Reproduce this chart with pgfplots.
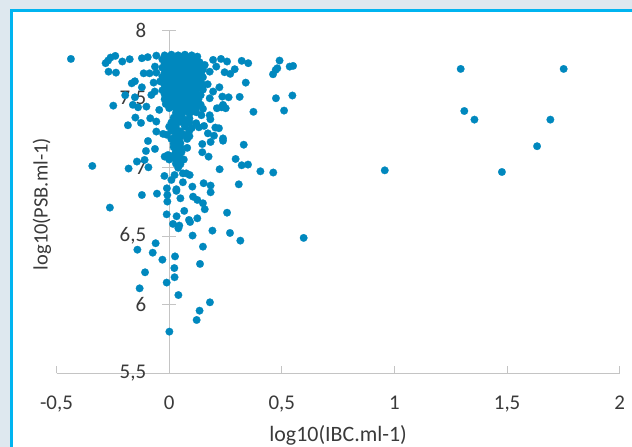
\documentclass[border=0pt]{standalone}
\usepackage{pgfplots}
\pgfplotsset{compat=1.18}
\usepackage{pgfplotstable}
\usepackage{fontspec}
\setmainfont{Carlito}
\definecolor{pagebg}{HTML}{DEE8EF}
\definecolor{frameblue}{HTML}{00B4F0}
\definecolor{dot}{HTML}{0088BE}
\definecolor{axisgrey}{HTML}{C4C4C4}
\definecolor{txt}{HTML}{3A3A3A}
\pgfplotstableread{
x y
-0.436 7.794
-0.341 7.013
-0.180 6.994
-0.143 7.045
-0.109 7.057
-0.092 7.003
-0.282 7.763
-0.271 7.782
-0.260 7.804
-0.239 7.816
-0.269 7.701
-0.236 7.694
-0.208 7.775
-0.175 7.792
-0.121 7.799
-0.095 7.807
-0.057 7.818
-0.113 7.689
-0.087 7.689
-0.063 7.738
-0.057 7.694
-0.166 7.616
-0.152 7.631
-0.121 7.587
-0.069 7.621
-0.079 7.531
-0.064 7.556
-0.195 7.529
-0.152 7.514
-0.248 7.453
-0.161 7.459
-0.138 7.441
-0.101 7.446
-0.044 7.422
-0.150 7.366
-0.084 7.361
-0.057 7.337
-0.125 7.327
-0.183 7.310
-0.057 7.264
-0.027 7.247
-0.094 7.195
-0.063 7.137
-0.103 7.122
-0.020 7.081
-0.005 7.093
-0.021 6.940
-0.121 6.801
-0.054 6.811
-0.010 6.850
0.125 7.811
0.158 7.750
0.180 7.701
0.195 7.787
0.209 7.738
0.230 7.794
0.257 7.775
0.246 7.697
0.271 7.685
0.291 7.719
0.322 7.780
0.351 7.763
0.490 7.782
0.480 7.726
0.473 7.714
0.461 7.682
0.535 7.738
0.550 7.743
0.340 7.621
0.171 7.609
0.223 7.587
0.195 7.556
0.180 7.507
0.236 7.519
0.264 7.514
0.313 7.517
0.474 7.507
0.547 7.527
0.374 7.408
0.510 7.417
0.212 7.434
0.232 7.441
0.239 7.459
0.251 7.434
0.180 7.383
0.183 7.354
0.143 7.383
0.132 7.295
0.155 7.305
0.205 7.293
0.221 7.288
0.172 7.251
0.199 7.234
0.239 7.214
0.239 7.197
0.184 7.188
0.147 7.173
0.331 7.168
0.147 7.113
0.175 7.081
0.295 7.064
0.322 7.018
0.350 7.023
0.224 6.989
0.405 6.974
0.462 6.965
0.309 6.879
0.153 6.887
0.184 6.870
0.184 6.821
0.103 6.862
0.106 6.789
0.061 6.959
0.024 6.947
0.010 6.911
0.061 6.894
0.032 6.843
0.050 6.777
0.091 6.947
0.076 6.959
-0.263 6.709
-0.008 6.753
-0.008 6.801
0.032 6.831
0.125 6.765
0.150 6.741
0.158 6.697
0.067 6.685
-0.011 6.660
0.033 6.646
0.088 6.619
0.093 6.604
0.125 6.631
0.257 6.672
0.017 6.590
0.045 6.578
0.041 6.558
0.104 6.505
0.192 6.541
0.270 6.524
0.316 6.468
0.597 6.488
-0.060 6.449
-0.141 6.402
-0.073 6.380
-0.030 6.329
0.026 6.353
0.150 6.424
0.137 6.298
0.023 6.268
-0.107 6.237
0.024 6.201
-0.011 6.162
-0.131 6.120
0.041 6.071
0.181 6.018
0.135 5.957
0.122 5.889
0.001 5.804
1.294 7.721
1.751 7.721
1.310 7.414
1.355 7.351
1.692 7.351
1.633 7.157
1.477 6.969
0.957 6.981
-0.02 7.82
0.01 7.825
0.04 7.82
0.07 7.825
0.10 7.82
-0.03 7.79
0.00 7.79
0.03 7.79
0.06 7.795
0.09 7.79
0.12 7.78
-0.02 7.76
0.01 7.76
0.04 7.755
0.07 7.76
0.10 7.755
0.13 7.75
-0.03 7.73
0.00 7.725
0.03 7.73
0.06 7.725
0.09 7.73
0.12 7.72
0.15 7.72
-0.02 7.695
0.01 7.70
0.04 7.695
0.07 7.70
0.10 7.69
0.13 7.695
-0.03 7.665
0.00 7.665
0.03 7.67
0.06 7.665
0.09 7.66
0.12 7.665
0.15 7.66
-0.04 7.63
-0.01 7.635
0.02 7.63
0.05 7.635
0.08 7.63
0.11 7.635
0.14 7.625
-0.02 7.60
0.01 7.60
0.04 7.595
0.07 7.60
0.10 7.595
0.13 7.60
-0.03 7.565
0.00 7.57
0.03 7.565
0.06 7.57
0.09 7.56
0.12 7.565
0.15 7.57
-0.02 7.535
0.01 7.53
0.04 7.535
0.07 7.53
0.105 7.535
0.14 7.53
-0.02 7.50
0.01 7.50
0.04 7.495
0.07 7.50
0.10 7.49
0.13 7.50
-0.015 7.465
0.015 7.47
0.045 7.465
0.075 7.46
0.11 7.47
0.14 7.46
0.00 7.435
0.03 7.43
0.06 7.435
0.09 7.43
0.12 7.44
0.15 7.43
0.03 7.40
0.06 7.40
0.09 7.395
0.12 7.405
0.02 7.365
0.05 7.37
0.09 7.36
0.01 7.33
0.05 7.335
0.09 7.33
0.12 7.325
0.00 7.30
0.03 7.295
0.07 7.30
0.10 7.29
0.01 7.27
0.05 7.265
0.09 7.27
-0.01 7.24
0.03 7.235
0.07 7.24
0.09 7.23
0.01 7.21
0.04 7.205
0.08 7.21
0.02 7.175
0.05 7.18
0.02 7.15
0.05 7.15
0.08 7.145
0.03 7.12
0.055 7.115
0.02 7.09
0.04 7.085
0.00 7.06
0.03 7.055
0.065 7.06
0.03 7.03
0.05 7.025
0.04 7.00
-0.005 7.805
0.025 7.805
0.055 7.81
0.085 7.805
0.115 7.80
-0.015 7.775
0.015 7.775
0.045 7.775
0.075 7.775
0.105 7.775
0.135 7.77
-0.015 7.745
0.015 7.74
0.045 7.74
0.075 7.745
0.105 7.74
0.135 7.735
-0.015 7.71
0.015 7.71
0.045 7.71
0.075 7.715
0.105 7.71
0.145 7.705
-0.015 7.68
0.015 7.68
0.045 7.68
0.075 7.68
0.115 7.68
0.14 7.68
-0.015 7.65
0.015 7.65
0.045 7.65
0.075 7.645
0.105 7.65
0.135 7.645
-0.005 7.615
0.025 7.615
0.055 7.615
0.085 7.61
0.115 7.615
0.145 7.61
-0.005 7.585
0.025 7.58
0.055 7.58
0.085 7.58
0.115 7.58
0.145 7.59
-0.005 7.55
0.025 7.55
0.055 7.55
0.085 7.545
0.12 7.55
-0.005 7.515
0.025 7.515
0.055 7.515
0.085 7.515
0.115 7.515
0.005 7.485
0.025 7.485
0.055 7.48
0.085 7.48
0.12 7.485
0.015 7.45
0.045 7.45
0.075 7.445
0.105 7.45
0.045 7.415
0.075 7.42
0.105 7.415
0.03 7.35
0.07 7.35
0.03 7.315
0.07 7.315
0.03 7.25
0.05 7.225
0.035 7.19
0.035 7.135
0.01 7.075
0.05 7.07
}\datatable
\begin{document}
\begin{tikzpicture}[x=1bp,y=1bp]
\useasboundingbox (0,0) rectangle (632,447);
\fill[pagebg] (0,0) rectangle (632,447);
\fill[frameblue] (10,0) rectangle (632,437.5);
\fill[white] (12.5,0) rectangle (632,435);
\begin{axis}[
  at={(56.5bp,73.7bp)}, anchor=south west,
  scale only axis, width=563.25bp, height=342.6bp,
  xmin=-0.5, xmax=2, ymin=5.5, ymax=8,
  axis x line=bottom, axis y line=center,
  axis line style={-,draw=axisgrey,line width=0.9pt},
  hide obscured x ticks=false, hide obscured y ticks=false,
  xtick={-0.5,0,0.5,1,1.5,2},
  xticklabels={{-0,5},0,{0,5},1,{1,5},2},
  ytick={5.5,6,6.5,7,7.5,8},
  yticklabels={{5,5},6,{6,5},7,{7,5},8},
  minor xtick={-0.5,0.5,1,1.5,2},
  xtick align=inside, ytick align=center,
  major tick length=14bp, minor tick length=7bp,
  major x tick style={draw=none},
  minor x tick style={draw=axisgrey,line width=0.8pt},
  major y tick style={draw=axisgrey,line width=0.8pt},
  tick label style={font=\fontsize{21}{24}\selectfont,text=txt},
  xticklabel style={yshift=-19bp},
  yticklabel style={xshift=-12.5bp},
  xlabel={log10(IBC.ml-1)}, ylabel={log10(PSB.ml-1)},
  every axis x label/.style={at={(axis description cs:0.5,-0.18)},anchor=center,font=\fontsize{22}{24}\selectfont,text=txt},
  every axis y label/.style={at={(axis description cs:-0.0257,0.494)},rotate=90,anchor=center,font=\fontsize{20.5}{24}\selectfont,text=txt},
  clip=false, axis on top=false,
]
\addplot[only marks, draw=dot, fill=dot, mark=*, mark size=3.8bp, mark options={draw=dot,fill=dot,line width=0.2pt}] table[x=x,y=y] {\datatable};
\end{axis}
\end{tikzpicture}
\end{document}
